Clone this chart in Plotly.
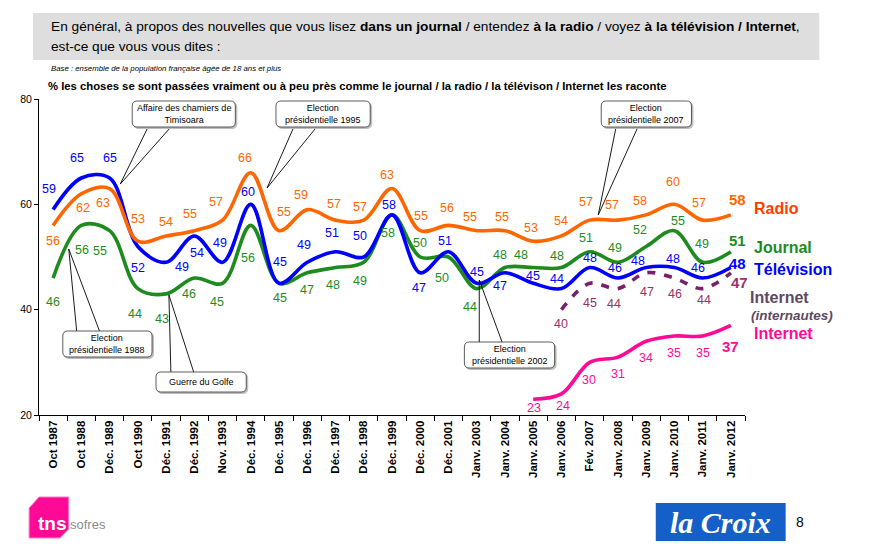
import plotly.graph_objects as go

# ---------------- data ----------------
categories = ["Oct 1987", "Oct 1988", "Déc. 1989", "Oct 1990", "Déc. 1991", "Déc. 1992",
              "Nov. 1993", "Déc. 1994", "Déc. 1995", "Déc. 1996", "Déc. 1997", "Déc. 1998",
              "Déc. 1999", "Déc. 2000", "Déc. 2001", "Janv. 2003", "Janv. 2004", "Janv. 2005",
              "Janv. 2006", "Fév. 2007", "Janv. 2008", "Janv. 2009", "Janv. 2010", "Janv. 2011",
              "Janv. 2012"]
radio = [56, 62, 63, 53, 54, 55, 57, 66, 55, 59, 57, 57, 63, 55, 56, 55, 55, 53, 54, 57, 57, 58, 60, 57, 58]
journal = [46, 56, 55, 44, 43, 46, 45, 56, 45, 47, 48, 49, 58, 50, 50, 44, 48, 48, 48, 51, 49, 52, 55, 49, 51]
television = [59, 65, 65, 52, 49, 54, 49, 60, 45, 49, 51, 50, 58, 47, 51, 45, 47, 45, 44, 48, 46, 48, 48, 46, 48]
internautes = [None, None, None, None, None, None, None, None, None, None, None, None,
               None, None, None, None, None, None, 40, 45, 44, 47, 46, 44, 47]
internet = [None, None, None, None, None, None, None, None, None, None, None, None,
            None, None, None, None, None, 23, 24, 30, 31, 34, 35, 35, 37]
y_ticks = [20, 40, 60, 80]

# ---------------- styles / label placement (pixels) ----------------
C_RADIO = "#FF6600"
C_JOURNAL = "#1E8B1E"
C_TV = "#0000FF"
C_NAUTES = "#7A1F6A"
C_NAUTES_TXT = "#993366"
C_NET = "#FF0A96"

radio_dy = [-16, -14, -14, 22, 14, 17, 18, 15, 19, 15, 16, 13, 14, 15, 17, 14, 14, 13, 15, 18, 15, 14, 22, 17, 15]
radio_dx = [0, 2, -7, 0, 0, -4, -7, -6, 5, -6, -2, -4, -5, 1, -1, -7, -3, -2, 0, -4, -6, -6, -1, -4, 7]
tv_dy = [21, 20, 20, -22, -5, -17, 19, 12, 21, 17, 19, 21, 10, -15, 11, 11, -13, 7, 10, 10, 10, 7, 9, 10, 4]
tv_dx = [-4, -4, 0, 0, 16, 3, -3, -3, 1, -3, -4, -4, -3, -1, -3, 0, -5, 0, -4, 0, -3, -8, -1, -5, 7]
jr_dy = [-24, -25, -20, -25, -25, -16, -19, -33, -15, -17, -17, -19, -18, 14, -21, -18, 13, 13, 12, 14, 14, 16, 10, 18, 11]
jr_dx = [0, 1, -10, -3, -4, -5, -6, -3, 1, 0, -3, -4, -4, 0, -6, -7, -5, -12, -4, -4, -3, -6, 4, -1, 7]
na_dy = [0] * 18 + [-14, -20, -15, -19, -16, -11, -10]
na_dx = [0] * 18 + [0, 0, -4, 1, 1, 1, 9]
ne_dy = [0] * 17 + [-9, -12, -18, -17, -17, -17, -17, -21]
ne_dx = [0] * 17 + [1, 2, -1, 0, 0, 0, 0, 0]

W, H = 876, 559
OFF = 8  # page body margin
X0, X1, Y0, Y1 = 33, 745, 99, 415  # plot area in window pixels


def px(x):
    return (x - X0) / (X1 - X0)


def py(y):
    return (Y1 - y) / (Y1 - Y0)


fig = go.Figure()

series = [
    ("Internet", internet, C_NET, "solid", ne_dy, ne_dx, C_NET, 12.5),
    ("Internet (internautes)", internautes, C_NAUTES, "dash", na_dy, na_dx, C_NAUTES_TXT, 12.5),
    ("Journal", journal, C_JOURNAL, "solid", jr_dy, jr_dx, C_JOURNAL, 12.5),
    ("Télévision", television, C_TV, "solid", tv_dy, tv_dx, C_TV, 12.5),
    ("Radio", radio, C_RADIO, "solid", radio_dy, radio_dx, C_RADIO, 12.5),
]

annotations = []
for name, vals, col, dash, dys, dxs, tcol, fs in series:
    fig.add_trace(go.Scatter(
        x=categories, y=vals, mode="lines", name=name, connectgaps=False,
        line=dict(color=col, width=3.6, shape="spline", smoothing=1.0,
                  dash="8px,9px" if dash == "dash" else "solid"),
        hoverinfo="skip", showlegend=False))
    last = len(vals) - 1
    for i, v in enumerate(vals):
        if v is None:
            continue
        bold = i == last
        annotations.append(dict(
            x=categories[i], y=v, xref="x", yref="y", showarrow=False,
            text=("<b>%d</b>" % v) if bold else str(v),
            yshift=dys[i], xshift=dxs[i],
            font=dict(family="Arial", size=15 if bold else fs, color=tcol)))


def pann(x, y, text, size, color="black", xanchor="center", yanchor="middle", family="Arial", align="center"):
    annotations.append(dict(x=px(x), y=py(y), xref="paper", yref="paper", text=text,
                            showarrow=False, xanchor=xanchor, yanchor=yanchor, align=align,
                            font=dict(family=family, size=size, color=color)))


# series names on the right
pann(752, 208, "<b>Radio</b>", 16, "#FF3C00", xanchor="left")
pann(752, 247, "<b>Journal</b>", 16, C_JOURNAL, xanchor="left")
pann(752, 269, "<b>Télévision</b>", 16, C_TV, xanchor="left")
pann(748, 297, "<b>Internet</b>", 16, "#5E4A60", xanchor="left")
pann(749, 315, "<b><i>(internautes)</i></b>", 13.5, "#5E4A60", xanchor="left")
pann(752, 333, "<b>Internet</b>", 16, C_NET, xanchor="left")

shapes = []


def path_px(points, close=False):
    s = "M " + " L ".join("%.5f,%.5f" % (px(x), py(y)) for x, y in points)
    return s + (" Z" if close else "")


def rrect(x0, y0, x1, y1, r):
    s = "M %.5f,%.5f" % (px(x0 + r), py(y0))
    s += " L %.5f,%.5f" % (px(x1 - r), py(y0))
    s += " Q %.5f,%.5f %.5f,%.5f" % (px(x1), py(y0), px(x1), py(y0 + r))
    s += " L %.5f,%.5f" % (px(x1), py(y1 - r))
    s += " Q %.5f,%.5f %.5f,%.5f" % (px(x1), py(y1), px(x1 - r), py(y1))
    s += " L %.5f,%.5f" % (px(x0 + r), py(y1))
    s += " Q %.5f,%.5f %.5f,%.5f" % (px(x0), py(y1), px(x0), py(y1 - r))
    s += " L %.5f,%.5f" % (px(x0), py(y0 + r))
    s += " Q %.5f,%.5f %.5f,%.5f Z" % (px(x0), py(y0), px(x0 + r), py(y0))
    return s


def callout(box, base_a, base_b, tip, text):
    x0, y0, x1, y1 = box
    shapes.append(dict(type="path", xref="paper", yref="paper",
                       path=path_px([base_a, tip, base_b]),
                       line=dict(color="black", width=0.9), fillcolor="rgba(0,0,0,0)"))
    shapes.append(dict(type="path", xref="paper", yref="paper",
                       path=rrect(x0 + 1.5, y0 + 1.5, x1 + 1.5, y1 + 1.5, 5),
                       line=dict(color="#BDBDBD", width=1), fillcolor="#BDBDBD"))
    shapes.append(dict(type="path", xref="paper", yref="paper",
                       path=rrect(x0, y0, x1, y1, 5),
                       line=dict(color="#333333", width=0.8), fillcolor="white"))
    pann((x0 + x1) / 2, (y0 + y1) / 2, text, 9, "black")


callout((127, 101, 231, 127), (143, 127), (166, 127), (115, 184), "Affaire des chamiers de<br>Timisoara")
callout((272, 101, 367, 127), (290, 127), (313, 127), (263, 188), "Election<br>présidentielle 1995")
callout((600, 101, 691, 127), (615, 127), (637, 127), (597, 215), "Election<br>présidentielle 2007")
callout((57, 331, 147, 357), (71, 331), (94, 331), (63, 249), "Election<br>présidentielle 1988")
callout((151, 372, 242, 392), (166, 372), (189, 372), (164, 295), "Guerre du Golfe")
callout((462, 342, 553, 368), (477, 342), (500, 342), (477, 280), "Election<br>présidentielle 2002")

# header
shapes.append(dict(type="rect", xref="paper", yref="paper", layer="below",
                   x0=px(27), x1=px(820), y0=py(13), y1=py(60),
                   fillcolor="#DEDEDE", line=dict(width=0)))
pann(43, 27, "En général, à propos des nouvelles que vous lisez <b>dans un journal</b> / entendez "
             "<b>à la radio</b> / voyez <b>à la télévision / Internet</b>,", 13.7, "black", xanchor="left")
pann(43, 46, "est-ce que vous vous dites :", 13.7, "black", xanchor="left")
pann(43, 69, "<i>Base : ensemble de la population française âgée de 18 ans et plus</i>", 7.8, "black",
     xanchor="left")
pann(40, 86, "<b>% les choses se sont passées vraiment ou à peu près comme le journal / la radio / "
             "la télévison / Internet les raconte</b>", 11.3, "black", xanchor="left")

# logos
shapes.append(dict(type="path", xref="paper", yref="paper",
                   path=path_px([(23, 508), (33, 497), (63, 497), (63, 529), (54, 538), (23, 538)], close=True),
                   fillcolor="#FF0A96", line=dict(color="#FF7FC0", width=1)))
pann(47, 523, "<b>tns</b>", 19, "white")
pann(82, 524, "sofres", 13, "#8C8C8C")
shapes.append(dict(type="rect", xref="paper", yref="paper",
                   x0=px(655), x1=px(786), y0=py(503), y1=py(541),
                   fillcolor="#1560C8", line=dict(width=0)))
pann(720, 522, "<b><i>la Croix</i></b>", 30, "white", family="Liberation Serif")
pann(800, 522, "8", 14, "black")

fig.update_layout(
    width=W, height=H,
    margin=dict(l=X0 - OFF, r=W - (X1 - OFF), t=Y0 - OFF, b=H - (Y1 - OFF), pad=0),
    paper_bgcolor="white", plot_bgcolor="white",
    annotations=annotations, shapes=shapes,
    xaxis=dict(type="category", range=[-0.5, len(categories) - 0.5], showgrid=False, zeroline=False,
               showline=True, linecolor="black", linewidth=1, ticks="outside", ticklen=5,
               tickcolor="black", tickson="boundaries", tickangle=-90,
               tickfont=dict(family="Arial", size=11.5, color="black", weight="bold"),
               fixedrange=True),
    yaxis=dict(range=[20, 80], tickvals=y_ticks, showgrid=False, zeroline=False,
               showline=True, linecolor="black", linewidth=1, ticks="outside", ticklen=4,
               tickcolor="black", tickfont=dict(family="Arial", size=10.5, color="black"),
               fixedrange=True),
)

fig.write_html("out.html")
